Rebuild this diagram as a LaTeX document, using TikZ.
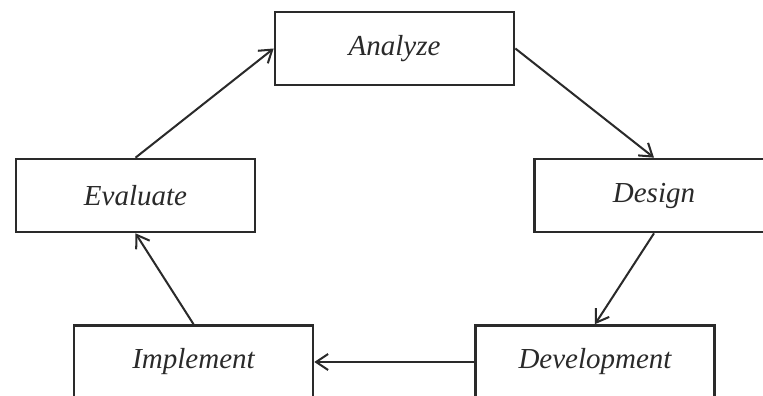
\documentclass[tikz,border=0pt]{standalone}
\usepackage{fontspec}
\setmainfont{Liberation Serif}
\usetikzlibrary{arrows.meta}
\definecolor{ink}{HTML}{2a2a2a}
\tikzset{
  phase/.style={draw=ink,line width=1.5pt,fill=white,minimum width=4.78cm,minimum height=1.46cm,
    font=\fontsize{16.5}{20}\selectfont\itshape,text=ink},
  flow/.style={->,draw=ink,line width=1.15pt}
}
\begin{document}
\begin{tikzpicture}[>={Straight Barb[length=2.4mm,width=3.2mm]}]
    \useasboundingbox (0,0) rectangle (15.26,7.92);
    \node[phase] (analyze) at (7.89,6.95) {Analyze};
    \node[phase] (evaluate) at (2.71,4.01) {Evaluate};
    \node[phase] (design) at (13.08,4.01) {Design};
    \node[phase] (implement) at (3.87,.68) {Implement};
    \node[phase] (development) at (11.9,.68) {Development};
    \draw[flow](evaluate.north)--(analyze.west);
    \draw[flow](analyze.east)--(design.north);
    \draw[flow](design.south)--(development.north);
    \draw[flow](development.west)--(implement.east);
    \draw[flow](implement.north)--(evaluate.south);
\end{tikzpicture}
\end{document}
